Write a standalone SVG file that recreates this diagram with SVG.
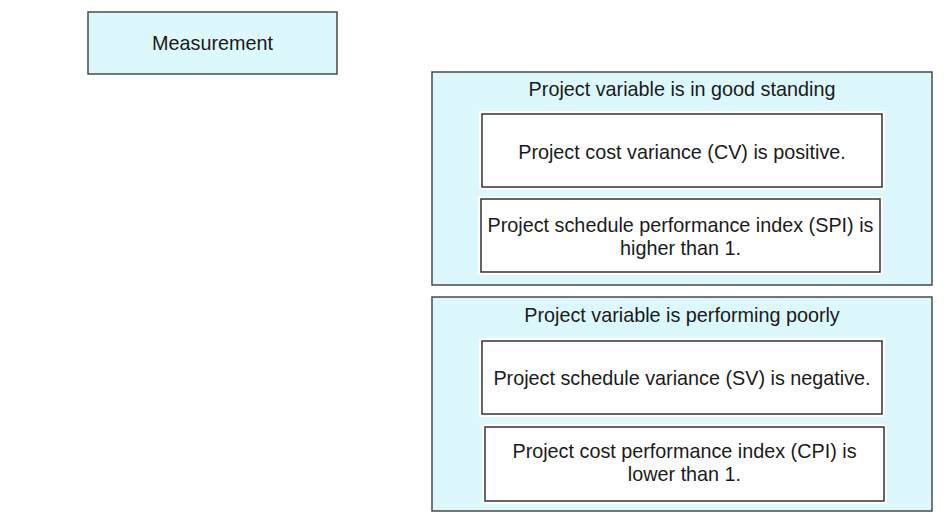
<svg xmlns="http://www.w3.org/2000/svg" width="945" height="525" viewBox="0 0 945 525">
<style>
.outer{fill:#dcf8fc;stroke:#4a4a4a;stroke-width:1.5}
.pad{fill:#ffffff}
.inner{fill:#ffffff;stroke:#333333;stroke-width:1.5}
text{font-family:"Liberation Sans",Arial,sans-serif;font-size:19.8px;fill:#1a1a1a;text-anchor:middle}
</style>
<rect width="945" height="525" fill="#ffffff"/>
<g id="measurement">
<rect class="outer" x="88" y="12" width="249" height="62"/>
<text x="212.5" y="50">Measurement</text>
</g>
<g id="good-standing">
<rect class="outer" x="432" y="72" width="500" height="213"/>
<text x="682" y="96">Project variable is in good standing</text>
<g id="cv-positive">
<rect class="pad" x="479" y="111" width="406" height="79"/>
<rect class="inner" x="482" y="114" width="400" height="73"/>
<text x="682" y="159">Project cost variance (CV) is positive.</text>
</g>
<g id="spi-higher">
<rect class="pad" x="478" y="196" width="405" height="79"/>
<rect class="inner" x="481" y="199" width="399" height="73"/>
<text x="680.5" y="232">Project schedule performance index (SPI) is</text>
<text x="680.5" y="255">higher than 1.</text>
</g>
</g>
<g id="performing-poorly">
<rect class="outer" x="432" y="297" width="500" height="214"/>
<text x="682" y="322">Project variable is performing poorly</text>
<g id="sv-negative">
<rect class="pad" x="479" y="338" width="406" height="79"/>
<rect class="inner" x="482" y="341" width="400" height="73"/>
<text x="682" y="385">Project schedule variance (SV) is negative.</text>
</g>
<g id="cpi-lower">
<rect class="pad" x="482" y="424" width="405" height="80"/>
<rect class="inner" x="485" y="427" width="399" height="74"/>
<text x="684.5" y="458">Project cost performance index (CPI) is</text>
<text x="684.5" y="481">lower than 1.</text>
</g>
</g>
<g id="connectors"></g>
</svg>
